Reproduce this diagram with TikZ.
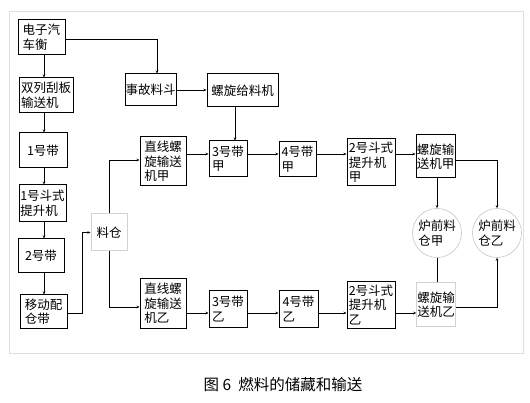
\documentclass[tikz,border=0pt]{standalone}
\usepackage{fontspec}
\usepackage{tikz}
\usetikzlibrary{arrows.meta}
\newfontfamily\cjk{Noto Sans CJK SC}

\begin{document}
\begin{tikzpicture}[x=1pt,y=-1pt,
    box/.style={draw=black,line width=1pt,inner sep=0.5pt,font=\cjk\fontsize{12.5}{14.5}\selectfont,align=left},
    palebox/.style={box,draw=gray!35},
    bin/.style={circle,draw=gray!45,line width=0.6pt,minimum size=49pt,inner sep=0pt,font=\cjk\fontsize{12.5}{14.5}\selectfont,align=left},
    flow/.style={line width=0.8pt,-{Stealth[length=3pt,width=2.5pt]}},
    link/.style={line width=0.8pt}]
    % Page and frame
    \useasboundingbox (0,0) rectangle (530,403);
    \draw[gray!25,line width=0.8pt] (9,11) rectangle (523,353);

    % Guide lines for the rows and the left column
    \coordinate (colL) at (44,0);
    \coordinate (rowA) at (0,154);
    \coordinate (rowB) at (0,313);

    % Left column
    \node[box,minimum width=47pt,minimum height=35pt] (dzqch) at (41.5,37.5) {电子汽\\车衡};
    \node[box,minimum width=54pt,minimum height=35pt] (slgb) at (46,95.5) {双列刮板\\输送机};
    \node[box,minimum width=48pt,minimum height=35pt] (d1) at (43,150.5) {1号带};
    \node[box,minimum width=47pt,minimum height=37pt] (dt1) at (42.5,203.5) {1号斗式\\提升机};
    \node[box,minimum width=46pt,minimum height=34pt] (d2) at (41,256) {2号带};
    \node[box,minimum width=47pt,minimum height=33pt] (ydpc) at (43.5,311.5) {移动配\\仓带};
    \node[palebox,minimum width=36pt,minimum height=37pt] (lc) at (109,232.5) {料仓};

    % Upper line
    \node[box,minimum width=51pt,minimum height=32pt] (sgld) at (150.5,90) {事故料斗};
    \node[box,minimum width=71pt,minimum height=33pt] (lxgl) at (242.5,90.5) {螺旋给料机};
    \node[box,minimum width=46pt,minimum height=49pt] (zx1) at (163,161.5) {直线螺\\旋输送\\机甲};
    \node[box,minimum width=38pt,minimum height=36pt] (d3a) at (228,159) {3号带\\甲};
    \node[box,minimum width=37pt,minimum height=35pt] (d4a) at (297.5,159.5) {4号带\\甲};
    \node[box,minimum width=48pt,minimum height=47pt] (dt2a) at (371,162.5) {2号斗式\\提升机\\甲};
    \node[box,minimum width=39pt,minimum height=43pt] (lxs1) at (435.5,156.5) {螺旋输\\送机甲};

    % Lower line
    \node[box,minimum width=46pt,minimum height=49pt] (zx2) at (163,303.5) {直线螺\\旋输送\\机乙};
    \node[box,minimum width=38pt,minimum height=36pt] (d3b) at (228,309) {3号带\\乙};
    \node[box,minimum width=39pt,minimum height=36pt] (d4b) at (298.5,309) {4号带\\乙};
    \node[box,minimum width=48pt,minimum height=46pt] (dt2b) at (371,305) {2号斗式\\提升机\\乙};
    \node[palebox,minimum width=38pt,minimum height=43pt] (lxs2) at (436,304.5) {螺旋输\\送机乙};

    % Furnace bins
    \node[bin] (lq1) at (437,233) {炉前料\\仓甲};
    \node[bin] (lq2) at (497,233) {炉前料\\仓乙};

    % Connectors, left column
    \draw[flow] (dzqch.south -| colL) -- (slgb.north -| colL);
    \draw[flow] (slgb.south -| colL) -- (d1.north -| colL);
    \draw[flow] (d1.south -| colL) -- (dt1.north -| colL);
    \draw[flow] (dt1.south -| colL) -- (d2.north -| colL);
    \draw[flow] (d2.south -| colL) -- (ydpc.north -| colL);
    \draw[flow] ([yshift=-1.5pt]ydpc.east) -- ++(15,0) |- (lc.west);
    \draw[flow] ([yshift=-1.5pt]dzqch.east) -| ([xshift=6.5pt]sgld.north);

    % Connectors, accident hopper
    \draw[flow] (sgld.east) -- (sgld.east -| lxgl.west);
    \draw[flow] ([xshift=-7.5pt]lxgl.south) -- ([xshift=-7.5pt]lxgl.south |- d3a.north);

    % Connectors, bunker to both lines
    \draw[flow] (lc.north) |- ([yshift=1.5pt]zx1.west);
    \draw[flow] (lc.south) |- ([yshift=-3.5pt]zx2.west);

    % Upper line
    \draw[flow] (zx1.east |- rowA) -- (d3a.west |- rowA);
    \draw[flow] (d3a.east |- rowA) -- (d4a.west |- rowA);
    \draw[flow] (d4a.east |- rowA) -- (dt2a.west |- rowA);
    \draw[flow] (dt2a.east |- rowA) -- (lxs1.west |- rowA);
    \draw[flow] ([xshift=1.5pt]lxs1.south) -- (lq1.north);
    \draw[flow] ([yshift=-3.5pt]lxs1.east) -| (lq2.north);

    % Lower line
    \draw[flow] (zx2.east |- rowB) -- (d3b.west |- rowB);
    \draw[flow] (d3b.east |- rowB) -- (d4b.west |- rowB);
    \draw[flow] (d4b.east |- rowB) -- (dt2b.west |- rowB);
    \draw[flow] (dt2b.east |- rowB) -- (lxs2.west |- rowB);
    \draw[link] (lq1.south) -- (lq1.south |- lxs2.north);
    \draw[flow] ([yshift=-2.5pt]lxs2.east) -| (lq2.south);

    % Caption
    \node[font=\cjk\fontsize{15.5}{18}\selectfont] (cap) at (283,385) {图\ 6\ \ 燃料的储藏和输送};
\end{tikzpicture}
\end{document}
